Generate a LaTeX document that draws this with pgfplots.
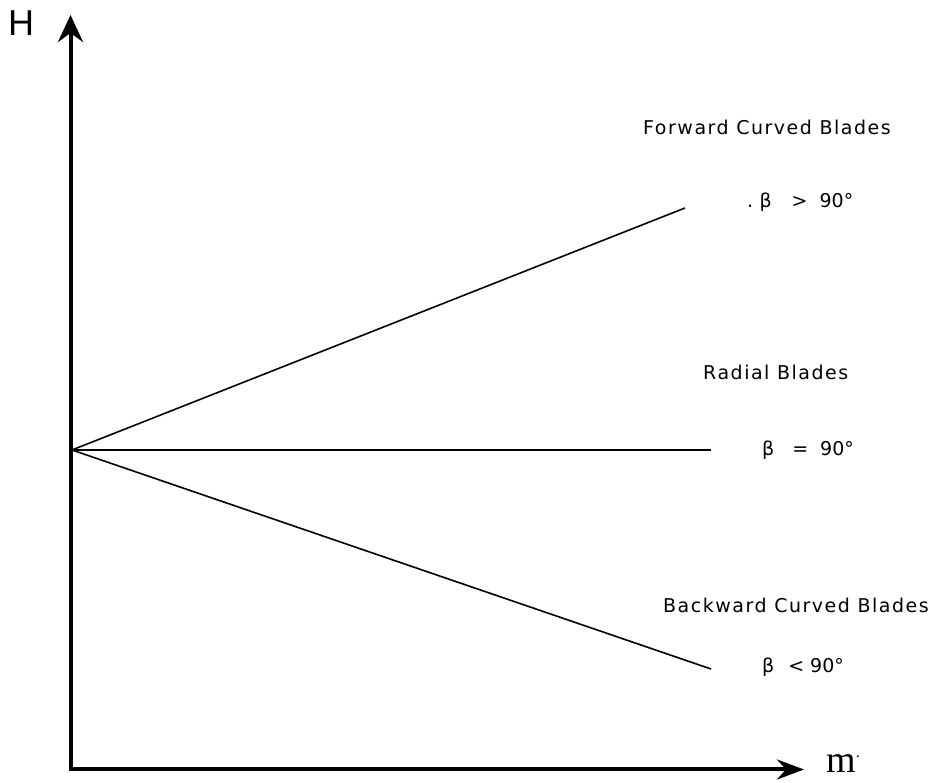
\documentclass[border=0pt]{standalone}
\usepackage{pgfplots}
\pgfplotsset{compat=1.18}
\usepackage{fontspec}
\setmainfont{DejaVu Sans}
\newfontfamily\lbl[LetterSpace=8]{DejaVu Sans}
\newfontfamily\hfont{Liberation Sans}
\newfontfamily\mfont{Liberation Serif}
\usetikzlibrary{arrows.meta}
\begin{document}
\begin{tikzpicture}
\begin{axis}[
  scale only axis, width=934pt, height=783pt,
  xmin=0, xmax=934, ymin=0, ymax=783,
  hide axis, clip=false,
]
\path (rel axis cs:0,0) rectangle (rel axis cs:1,1);
% axes
\addplot[black, line width=4pt, -{Stealth[length=27pt,width=25pt,inset=9pt]}] coordinates {(70.5,12) (70.5,768)} ;
\addplot[black, line width=4pt, -{Stealth[length=27pt,width=20pt,inset=9pt]}] coordinates {(68.5,13.5) (804,13.5)};
% characteristic lines
\addplot[black, line width=1.6pt] coordinates {(72,333) (685,575)};
\addplot[black, line width=1.6pt] coordinates {(72,333) (711,333)};
\addplot[black, line width=1.6pt] coordinates {(72,333) (711,114)};
% labels
\node[anchor=base west, inner sep=0pt] at (axis cs:8,747) {\hfont\fontsize{36}{40}\selectfont H};
\node[anchor=base west, inner sep=0pt] at (axis cs:826,10) {\mfont\fontsize{38}{42}\selectfont m\raisebox{0.42em}{\fontsize{16}{16}\selectfont .}};
\node[anchor=base west, inner sep=0pt] at (axis cs:643,648) {\lbl\fontsize{19}{22}\selectfont Forward Curved Blades};
\node[anchor=base west, inner sep=0pt] at (axis cs:747,575) {\fontsize{19}{22}\selectfont .\,\,β\hspace{20pt}>\hspace{12pt}90°};
\node[anchor=base west, inner sep=0pt] at (axis cs:703,403) {\lbl\fontsize{19}{22}\selectfont Radial Blades};
\node[anchor=base west, inner sep=0pt] at (axis cs:762,327) {\fontsize{19}{22}\selectfont β\hspace{18pt}=\hspace{12pt}90°};
\node[anchor=base west, inner sep=0pt] at (axis cs:663,170) {\lbl\fontsize{19}{22}\selectfont Backward Curved Blades};
\node[anchor=base west, inner sep=0pt] at (axis cs:762,110) {\fontsize{19}{22}\selectfont β\hspace{14pt}<\hspace{6pt}90°};
\end{axis}
\end{tikzpicture}
\end{document}
